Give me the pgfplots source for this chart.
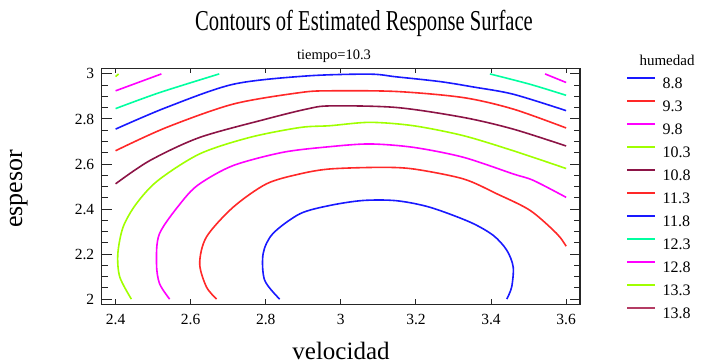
\documentclass[border=0pt]{standalone}
\usepackage{pgfplots}
\pgfplotsset{compat=1.18}
\usepackage{fontspec}
\setmainfont{Liberation Serif}
\definecolor{cblue}{RGB}{25,25,255}
\definecolor{cred}{RGB}{255,40,40}
\definecolor{cmag}{RGB}{255,0,255}
\definecolor{clime}{RGB}{160,255,0}
\definecolor{cmaroon}{RGB}{140,20,70}
\definecolor{caqua}{RGB}{0,255,160}
\definecolor{crose}{RGB}{180,60,100}
\begin{document}
\begin{tikzpicture}
\useasboundingbox (0,0) rectangle (702bp,364bp);
\begin{axis}[
  at={(101.7bp,59.7bp)}, anchor=south west,
  scale only axis, width=478.3bp, height=236bp,
  xmin=2.363, xmax=3.637, ymin=1.977, ymax=3.025,
  xtick={2.4,2.6,2.8,3,3.2,3.4,3.6},
  xticklabels={2.4,2.6,2.8,3,3.2,3.4,3.6},
  ytick={2,2.2,2.4,2.6,2.8,3},
  yticklabels={2,2.2,2.4,2.6,2.8,3},
  minor y tick num=3,
  tick align=inside,
  major tick length=10bp, minor tick length=6bp,
  xtick style={/pgfplots/major tick length=5bp},
  axis line style={line width=1.2bp, black!85},
  tick style={line width=1bp, black!85},
  ticklabel style={font=\fontsize{15.5bp}{18bp}\selectfont},
  xticklabel style={yshift=-6bp},
  yticklabel style={xshift=-4bp},
  /pgf/number format/assume math mode=true,
  every axis plot/.append style={line width=1.6bp, smooth, tension=0.5},
  legend image code/.code={\draw[#1, line width=2.2bp, sharp plot] (0bp,5bp) -- (28bp,5bp);},
  legend cell align=left,
  legend style={at={(1.0962,0.962)}, anchor=north west, draw=none, fill=none,
    inner sep=0pt, outer sep=0pt, row sep=11.4bp, column sep=6.5bp,
    font=\fontsize{16bp}{18bp}\selectfont,
    nodes={inner sep=0pt, text height=11bp, text depth=0bp}},
]
\addplot[cblue] coordinates {(2.837,2.0) (2.797,2.084) (2.793,2.202) (2.819,2.291) (2.891,2.379) (2.971,2.416) (3.059,2.438) (3.148,2.437) (3.237,2.408) (3.344,2.342) (3.406,2.283) (3.442,2.217) (3.459,2.143) (3.455,2.054) (3.442,2.0)};
\addlegendentry{8.8}
\addplot[cred] coordinates {(2.669,2.0) (2.642,2.054) (2.624,2.158) (2.642,2.276) (2.713,2.408) (2.802,2.512) (2.891,2.556) (2.971,2.578) (3.104,2.585) (3.193,2.578) (3.326,2.534) (3.415,2.468) (3.504,2.394) (3.575,2.291) (3.6,2.235)};
\addlegendentry{9.3}
\addplot[cmag] coordinates {(2.544,2.0) (2.517,2.069) (2.509,2.158) (2.517,2.291) (2.579,2.438) (2.624,2.512) (2.713,2.593) (2.846,2.652) (2.971,2.677) (3.077,2.689) (3.193,2.674) (3.326,2.630) (3.459,2.556) (3.513,2.527) (3.6,2.452)};
\addlegendentry{9.8}
\addplot[clime] coordinates {(2.442,2.0) (2.411,2.099) (2.406,2.202) (2.420,2.320) (2.455,2.423) (2.513,2.527) (2.624,2.645) (2.757,2.718) (2.891,2.762) (2.971,2.770) (3.077,2.785) (3.193,2.770) (3.326,2.726) (3.459,2.659) (3.6,2.58)};
\addlegendentry{10.3}
\addplot[cmaroon] coordinates {(2.4,2.512) (2.491,2.615) (2.624,2.718) (2.802,2.800) (2.909,2.844) (2.971,2.858) (3.148,2.851) (3.326,2.807) (3.459,2.755) (3.6,2.68)};
\addlegendentry{10.8}
\addplot[cred] coordinates {(2.4,2.659) (2.535,2.762) (2.713,2.866) (2.891,2.917) (2.971,2.925) (3.148,2.922) (3.326,2.895) (3.459,2.844) (3.6,2.76)};
\addlegendentry{11.3}
\addplot[cblue] coordinates {(2.4,2.755) (2.535,2.851) (2.713,2.954) (2.909,2.991) (3.077,2.999) (3.148,2.987) (3.264,2.966) (3.353,2.942) (3.459,2.910) (3.6,2.837)};
\addlegendentry{11.8}
\addplot[caqua] coordinates {(2.4,2.846) (2.517,2.917) (2.676,3.0)};
\addlegendentry{12.3}
\addplot[caqua, forget plot] coordinates {(3.397,3.0) (3.504,2.954) (3.6,2.905)};
\addplot[cmag] coordinates {(2.4,2.925) (2.522,3.0)};
\addlegendentry{12.8}
\addplot[cmag, forget plot] coordinates {(3.544,3.0) (3.6,2.962)};
\addplot[clime] coordinates {(2.4,2.988) (2.408,3.0)};
\addlegendentry{13.3}
\addlegendimage{crose}
\addlegendentry{13.8}
\end{axis}
\node[anchor=base, font=\fontsize{20.6bp}{24bp}\selectfont] at (364bp,333bp) {\scalebox{1}[1.4]{Contours of Estimated Response Surface}};
\node[anchor=base, font=\fontsize{14.5bp}{17bp}\selectfont] at (334bp,304bp) {tiempo=10.3};
\node[anchor=base, font=\fontsize{25bp}{28bp}\selectfont] at (341bp,5bp) {velocidad};
\node[anchor=base, rotate=90, font=\fontsize{26bp}{28bp}\selectfont] at (22bp,175bp) {espesor};
\node[anchor=base west, font=\fontsize{15bp}{17bp}\selectfont] at (636bp,298bp) {humedad};
\end{tikzpicture}
\end{document}
